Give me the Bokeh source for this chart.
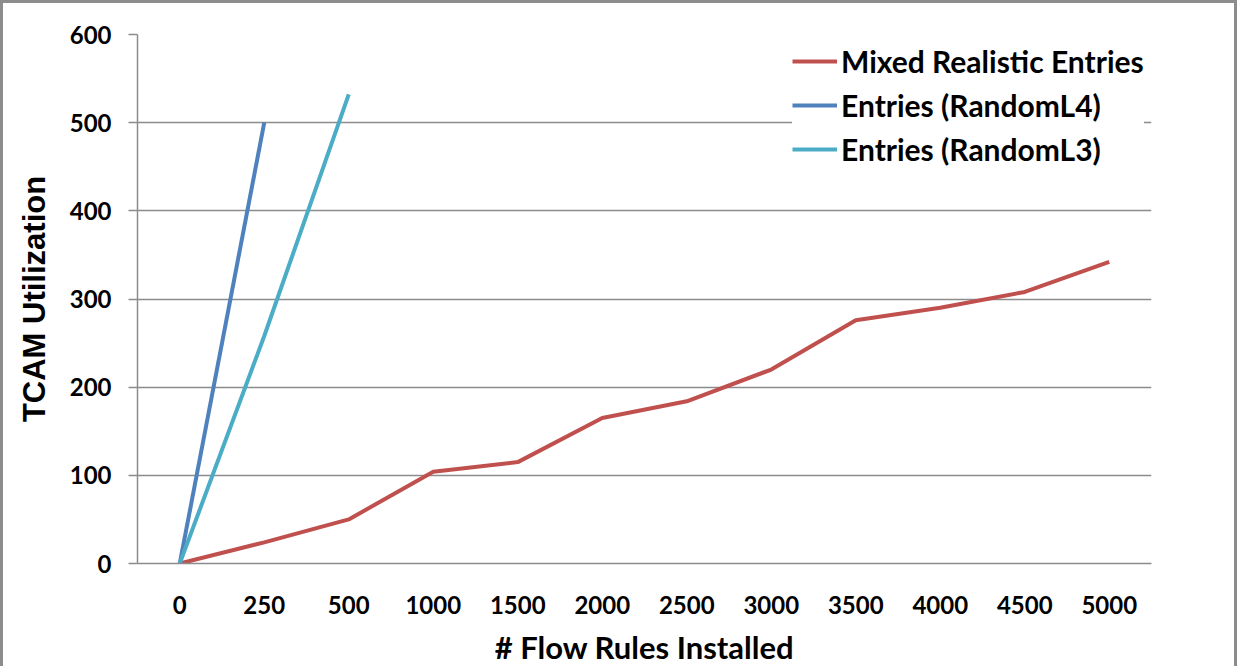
from bokeh.plotting import figure
from bokeh.models import FactorRange, Range1d, Legend, LegendItem
from bokeh.embed import file_html
from bokeh.resources import INLINE

categories = ["0", "250", "500", "1000", "1500", "2000", "2500", "3000", "3500", "4000", "4500", "5000"]
mixed = [0, 24, 50, 104, 115, 165, 184, 220, 276, 290, 308, 342]
randoml4 = [0, 500]
randoml3 = [0, 258, 532]
y_ticks = [0, 100, 200, 300, 400, 500, 600]

FONT = "Lato"

p = figure(x_range=FactorRange(*categories, range_padding=0), y_range=Range1d(0, 600),
           frame_width=1014, frame_height=529, min_border_left=134, min_border_right=83,
           min_border_top=31, min_border_bottom=98,
           output_backend="svg", toolbar_location=None)
p.styles = {"border": "3px solid #8c8c8c", "box-sizing": "border-box"}
p.outline_line_color = None
p.background_fill_color = "white"

p.line(categories, mixed, line_color="#C0504D", line_width=4)
p.line(categories[:len(randoml4)], randoml4, line_color="#4F81BD", line_width=4)
p.line(categories[:len(randoml3)], randoml3, line_color="#4BACC6", line_width=4)

p.xgrid.grid_line_color = None
p.ygrid.grid_line_color = "#8c8c8c"
p.ygrid.grid_line_width = 1.5
p.yaxis.ticker = y_ticks

for ax in (p.xaxis[0], p.yaxis[0]):
    ax.major_label_text_font = FONT
    ax.major_label_text_font_style = "bold"
    ax.major_label_text_font_size = "24px"
    ax.major_label_text_color = "black"
    ax.axis_label_text_font_style = "bold"
    ax.axis_label_text_color = "black"
    ax.minor_tick_line_color = None
    ax.axis_line_color = "#8c8c8c"
    ax.axis_line_width = 1.5

p.xaxis.axis_label = "# Flow Rules Installed"
p.xaxis.axis_label_text_font = FONT
p.xaxis.axis_label_text_font_size = "31px"
p.xaxis.major_tick_line_color = None
p.xaxis.major_label_standoff = 26
p.xaxis.axis_label_standoff = 11

p.yaxis.axis_label = "TCAM Utilization"
p.yaxis.axis_label_text_font = "Liberation Sans"
p.yaxis.axis_label_text_font_size = "31px"
p.yaxis.major_tick_line_color = "#8c8c8c"
p.yaxis.major_tick_line_width = 1.5
p.yaxis.major_tick_out = 9
p.yaxis.major_tick_in = 0
p.yaxis.major_label_standoff = 17
p.yaxis.axis_label_standoff = 15

r = p.renderers
legend = Legend(items=[
    LegendItem(label="Mixed Realistic Entries", renderers=[r[0]]),
    LegendItem(label="Entries (RandomL4)", renderers=[r[1]]),
    LegendItem(label="Entries (RandomL3)", renderers=[r[2]]),
], location=(655, 396))
legend.label_text_font = FONT
legend.label_text_font_style = "bold"
legend.label_text_font_size = "30px"
legend.label_text_color = "black"
legend.glyph_width = 45
legend.glyph_height = 32
legend.label_standoff = 4
legend.label_height = 32
legend.spacing = 8
legend.padding = 0
legend.margin = 0
legend.border_line_color = None
legend.background_fill_color = "white"
legend.background_fill_alpha = 1.0
p.add_layout(legend)

open("out.html", "w").write(file_html(p, INLINE))
